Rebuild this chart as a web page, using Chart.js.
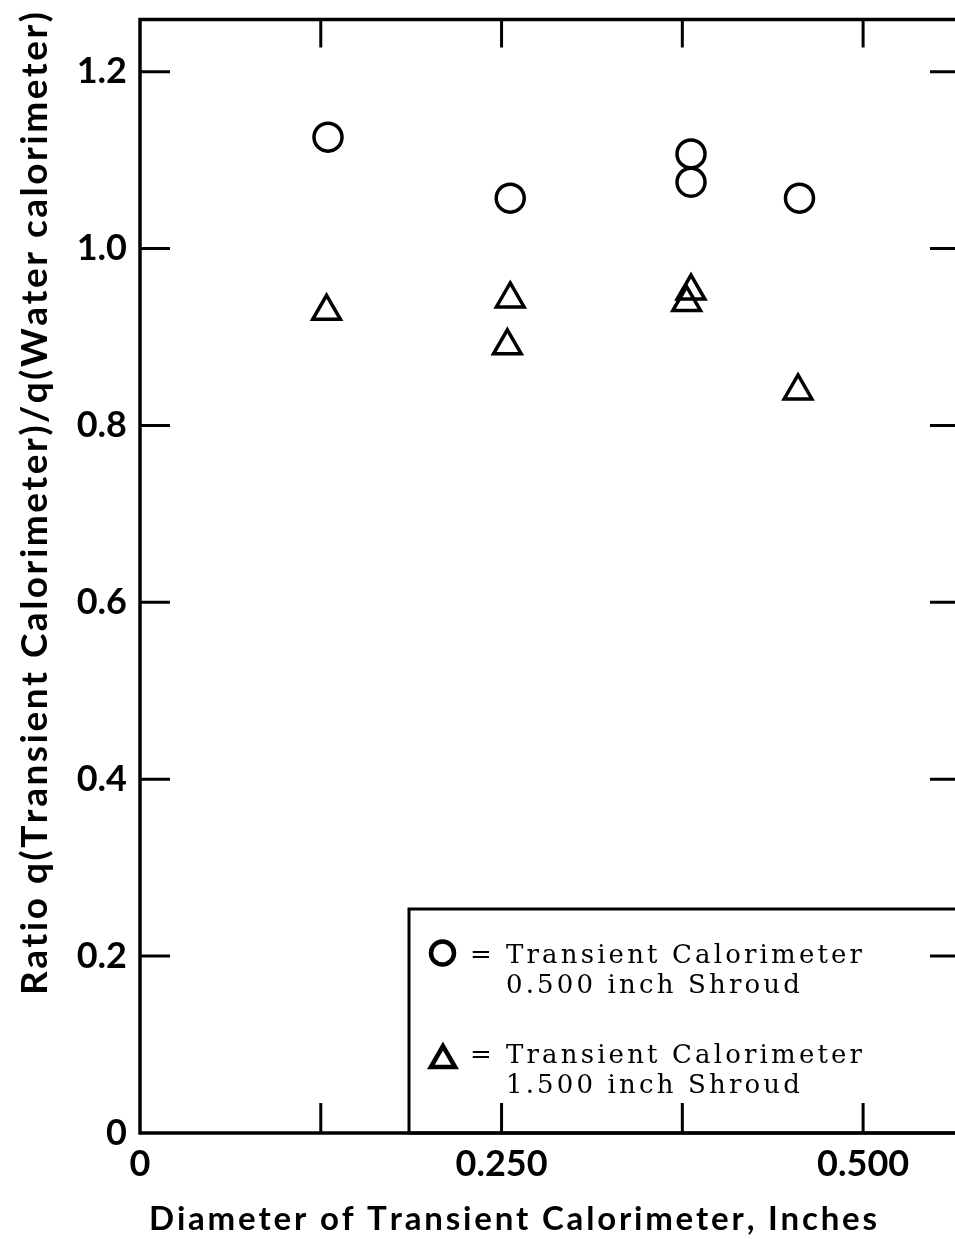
<!DOCTYPE html>
<html>
<head>
<meta charset="utf-8">
<script src="https://cdn.jsdelivr.net/npm/chart.js@4.4.1/dist/chart.umd.min.js"></script>
<style>
  html, body { margin: 0; padding: 0; background: #fff; overflow: hidden; }
</style>
</head>
<body>
<canvas id="myChart" width="980" height="1239"></canvas>
<script>
// ratio q(transient)/q(water) against calorimeter diameter
var circleX = [0.130, 0.256, 0.381, 0.381, 0.456]
var circleY = [1.126, 1.057, 1.107, 1.075, 1.057]
var triangleX = [0.129, 0.256, 0.254, 0.381, 0.378, 0.455]
var triangleY = [0.929, 0.943, 0.890, 0.952, 0.939, 0.839]

var xLabelTicks = [0, 0.25, 0.5]
var xMarkTicks = [0.125, 0.25, 0.375, 0.5]
var yLabelTicks = [0, 0.2, 0.4, 0.6, 0.8, 1.0, 1.2]
var yMarkTicks = [0.2, 0.4, 0.6, 0.8, 1.0, 1.2]

var seriesNames = ['0.500 inch Shroud', '1.500 inch Shroud']
var legendTitle = 'Transient Calorimeter'
var xTitle = 'Diameter of Transient Calorimeter, Inches'
var yTitle = 'Ratio q(Transient Calorimeter)/q(Water calorimeter)'

var INK = '#000'
var tickFont = { family: 'Lato', weight: 'bold', size: 36 }

function toPoints(xs, ys) {
  return xs.map(function(x, i) { return { x: x, y: ys[i] } })
}

function charsWidth(ctx, text) {
  var w = 0
  for (var i = 0; i < text.length; i++) w += ctx.measureText(text[i]).width
  return w
}
function drawSpaced(ctx, text, x, y, sp) {
  for (var i = 0; i < text.length; i++) {
    ctx.fillText(text[i], x, y)
    x += ctx.measureText(text[i]).width + sp
  }
}
function fitSpacing(ctx, text, target) {
  return (target - charsWidth(ctx, text)) / (text.length - 1)
}
function noPadding(s) {
  s.paddingTop = 0; s.paddingBottom = 0; s.paddingLeft = 0; s.paddingRight = 0
}

var framePlugin = {
  id: 'frame',
  beforeDatasetsDraw: function(chart) {
    var ctx = chart.ctx, a = chart.chartArea
    var xs = chart.scales.x, ys = chart.scales.y
    ctx.save()
    ctx.strokeStyle = INK
    ctx.lineWidth = 3.5
    ctx.strokeRect(a.left, a.top, a.right - a.left, a.bottom - a.top)
    ctx.lineWidth = 3
    ctx.beginPath()
    xMarkTicks.forEach(function(v) {
      var px = xs.getPixelForValue(v)
      ctx.moveTo(px, a.bottom); ctx.lineTo(px, a.bottom - 30)
      ctx.moveTo(px, a.top); ctx.lineTo(px, a.top + 28)
    })
    yMarkTicks.forEach(function(v) {
      var py = ys.getPixelForValue(v)
      ctx.moveTo(a.left, py); ctx.lineTo(a.left + 30, py)
      ctx.moveTo(a.right, py); ctx.lineTo(a.right - 30, py)
    })
    ctx.stroke()
    ctx.restore()
  },
  afterDraw: function(chart) {
    var ctx = chart.ctx, a = chart.chartArea
    ctx.save()
    ctx.fillStyle = INK
    ctx.strokeStyle = INK

    // legend box inside the plot, lower right
    ctx.lineWidth = 3
    ctx.strokeRect(409, 909, a.right - 409, a.bottom - 909)
    ctx.fillStyle = 'rgba(0,0,0,0)'
    ctx.lineWidth = 4.5
    Chart.helpers.drawPoint(ctx, { pointStyle: 'circle', radius: 11.5, borderWidth: 4.5, rotation: 0 }, 442.5, 953)
    Chart.helpers.drawPoint(ctx, { pointStyle: 'triangle', radius: 14, borderWidth: 4.5, rotation: 0 }, 443, 1060)

    ctx.fillStyle = INK
    ctx.font = '26px "DejaVu Serif"'
    ctx.textBaseline = 'alphabetic'
    var sp = fitSpacing(ctx, legendTitle, 356)
    var rows = [963, 1063]
    rows.forEach(function(y, i) {
      ctx.textAlign = 'center'
      ctx.fillText('=', 481, y)
      ctx.textAlign = 'left'
      drawSpaced(ctx, legendTitle, 506, y, sp)
      drawSpaced(ctx, seriesNames[i], 506, y + 30, sp)
    })

    // axis titles
    ctx.font = 'bold 33px Lato'
    ctx.textAlign = 'left'
    drawSpaced(ctx, xTitle, 149, 1230, fitSpacing(ctx, xTitle, 728))

    ctx.font = 'bold 37px Lato'
    ctx.translate(47, 995)
    ctx.rotate(-Math.PI / 2)
    drawSpaced(ctx, yTitle, 0, 0, fitSpacing(ctx, yTitle, 983))
    ctx.restore()
  }
}

var ctx = document.getElementById('myChart')
var myChart = new Chart(ctx, {
  type: 'scatter',
  data: {
    datasets: [{
      label: seriesNames[0],
      data: toPoints(circleX, circleY),
      pointStyle: 'circle',
      pointRadius: 14,
      pointBorderWidth: 3.5,
      borderColor: INK,
      backgroundColor: 'rgba(0,0,0,0)'
    }, {
      label: seriesNames[1],
      data: toPoints(triangleX, triangleY),
      pointStyle: 'triangle',
      pointRadius: 16,
      pointBorderWidth: 3.5,
      borderColor: INK,
      backgroundColor: 'rgba(0,0,0,0)'
    }]
  },
  options: {
    responsive: false,
    animation: false,
    layout: { padding: { top: 15, right: 20, left: 0, bottom: 0 } },
    plugins: { legend: { display: false }, tooltip: { enabled: false } },
    scales: {
      x: {
        type: 'linear',
        min: 0,
        max: 0.567,
        afterBuildTicks: function(s) { s.ticks = xLabelTicks.map(function(v) { return { value: v } }) },
        afterFit: function(s) { s.height = 106; noPadding(s) },
        grid: { display: false },
        border: { display: false },
        ticks: {
          color: INK,
          font: tickFont,
          padding: 2,
          maxRotation: 0,
          autoSkip: false,
          callback: function(v) { return v === 0 ? '0' : v.toFixed(3) }
        }
      },
      y: {
        type: 'linear',
        min: 0,
        max: 1.259,
        afterBuildTicks: function(s) { s.ticks = yLabelTicks.map(function(v) { return { value: v } }) },
        afterFit: function(s) { s.width = 140; noPadding(s) },
        grid: { display: false },
        border: { display: false },
        ticks: {
          color: INK,
          font: tickFont,
          padding: 5,
          autoSkip: false,
          callback: function(v) { return v === 0 ? '0' : v.toFixed(1) }
        }
      }
    }
  },
  plugins: [framePlugin]
})
</script>
</body>
</html>
